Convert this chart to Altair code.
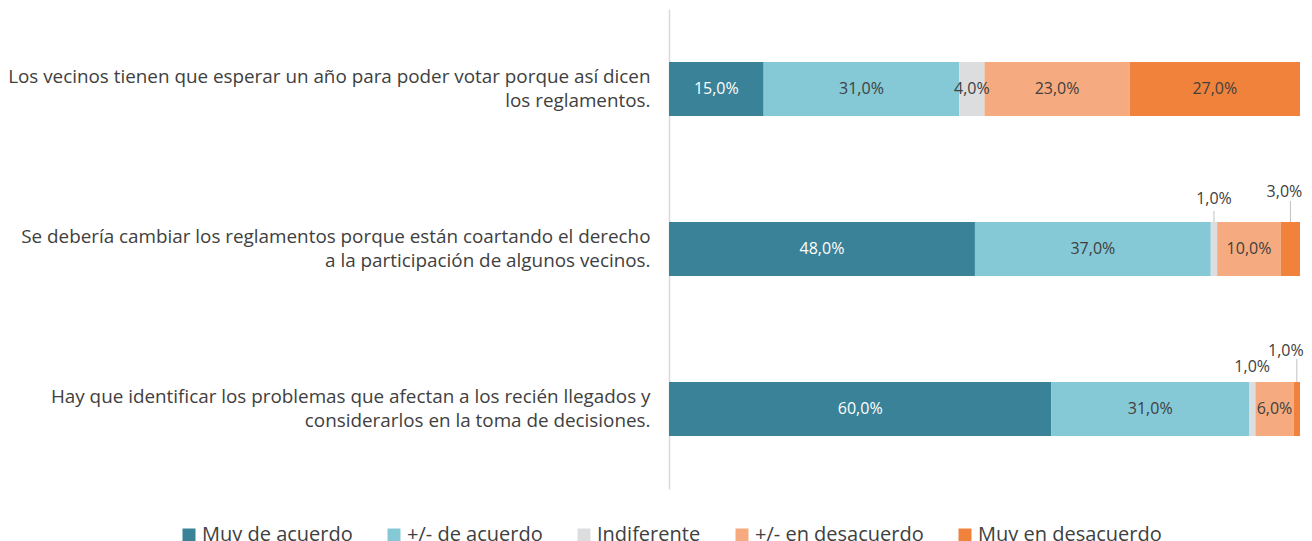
import altair as alt
import pandas as pd

categories = [
    "Los vecinos tienen que esperar un año para poder votar porque así dicen\nlos reglamentos.",
    "Se debería cambiar los reglamentos porque están coartando el derecho\na la participación de algunos vecinos.",
    "Hay que identificar los problemas que afectan a los recién llegados y\nconsiderarlos en la toma de decisiones.",
]
series = ["Muy de acuerdo", "+/- de acuerdo", "Indiferente", "+/- en desacuerdo", "Muy en desacuerdo"]
colors = ["#3A8297", "#84C9D5", "#DCDDDF", "#F5AB7F", "#F0823B"]

muy_de_acuerdo = [15.0, 48.0, 60.0]
mas_menos_acuerdo = [31.0, 37.0, 31.0]
indiferente = [4.0, 1.0, 1.0]
mas_menos_desacuerdo = [23.0, 10.0, 6.0]
muy_desacuerdo = [27.0, 3.0, 1.0]

values = [muy_de_acuerdo, mas_menos_acuerdo, indiferente, mas_menos_desacuerdo, muy_desacuerdo]
rows = []
for si, s in enumerate(series):
    for ci, c in enumerate(categories):
        rows.append({"cat": c, "row": ci, "serie": s, "ord": si, "value": values[si][ci]})
df = pd.DataFrame(rows)

FONT = "Open Sans"

base = alt.Chart(df).transform_stack(
    stack="value", groupby=["cat"], as_=["x0", "x1"], offset="normalize",
    sort=[alt.SortField("ord", order="ascending")]
).transform_calculate(
    mid="(datum.x0 + datum.x1) / 2",
    label="replace(format(datum.value, '.1f'), '.', ',') + '%'",
)

y_enc = alt.Y("cat:N", sort=categories, title=None,
              scale=alt.Scale(paddingInner=0, paddingOuter=0),
              axis=alt.Axis(labelExpr="split(datum.label, '\\n')", labelFont=FONT,
                            labelFontSize=18.85, labelColor="#404040", labelAlign="right",
                            labelBaseline="middle", labelLineHeight=24, labelLimit=0,
                            labelOffset=-12, labelPadding=19, ticks=False,
                            domainColor="#D9D9D9", domainWidth=1.5))

xs = alt.Scale(domain=[0, 1])

bars = base.mark_bar(size=54).encode(
    x=alt.X("x0:Q", scale=xs, axis=None),
    x2="x1:Q",
    y=y_enc,
    color=alt.Color("serie:N", sort=series,
                    scale=alt.Scale(domain=series, range=colors),
                    legend=alt.Legend(title=None, orient="none", direction="horizontal",
                                      legendX=-490, legendY=516, symbolType="square",
                                      symbolSize=169, symbolStrokeWidth=0,
                                      labelFont=FONT, labelFontSize=20, labelColor="#404040",
                                      labelOffset=3, columnPadding=31, labelLimit=0)),
)

big = base.transform_filter("datum.value >= 4").mark_text(
    font=FONT, fontSize=16, baseline="middle", align="center"
).encode(
    x=alt.X("mid:Q", scale=xs),
    y=alt.Y("cat:N", sort=categories),
    text="label:N",
    color=alt.condition("datum.ord == 0", alt.value("white"), alt.value("#404040")),
)

layers = [bars, big]

small_specs = [
    # (row, series index, dy, dx, leader yOffset, leader length)
    (1, 2, -50, 0, -32.5, 11),
    (1, 4, -57, -6, -37.5, 21),
    (2, 2, -42, 0, None, None),
    (2, 4, -58, -11, -38.5, 23),
]
for r, s, dy, dx, lo, ll in small_specs:
    f = f"datum.row == {r} && datum.ord == {s}"
    layers.append(base.transform_filter(f).mark_text(
        font=FONT, fontSize=16, baseline="middle", align="center", dy=dy, dx=dx,
        color="#404040"
    ).encode(x=alt.X("mid:Q", scale=xs), y=alt.Y("cat:N", sort=categories), text="label:N"))
    if lo is not None:
        layers.append(base.transform_filter(f).mark_tick(
            orient="vertical", size=ll, thickness=1, color="#A6A6A6", yOffset=lo
        ).encode(x=alt.X("mid:Q", scale=xs), y=alt.Y("cat:N", sort=categories)))

chart = alt.layer(*layers).properties(
    width=631, height=480,
    autosize=alt.AutoSizeParams(type="none"),
    padding={"left": 661, "top": 1, "right": 4, "bottom": 60},
).configure_view(stroke=None).configure_axis(grid=False)

chart.save("out.html", embed_options={"renderer": "svg", "actions": False})
